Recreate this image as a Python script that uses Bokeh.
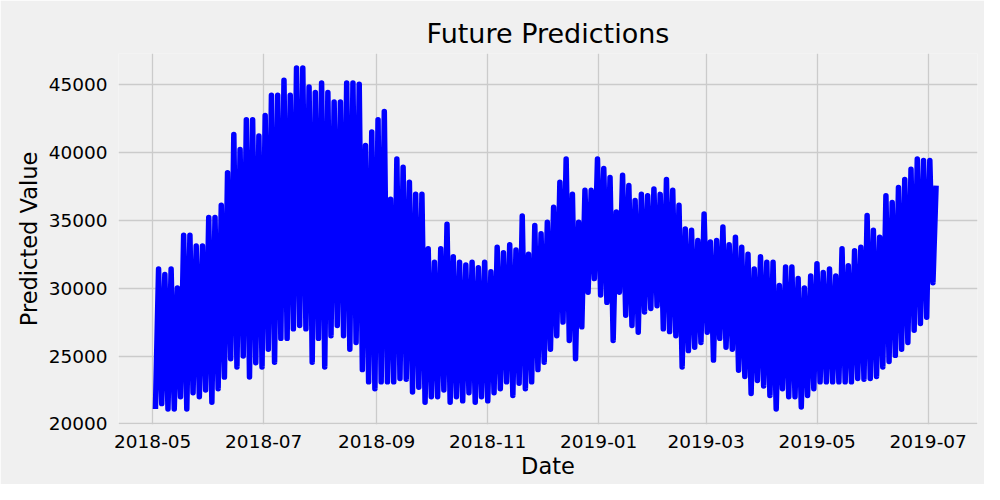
import pandas as pd
from bokeh.plotting import figure
from bokeh.models import Range1d, FixedTicker
from bokeh.embed import file_html
from bokeh.resources import INLINE

# envelope of the hourly forecast (about every 3.5 days)
start = "2018-05-02 12:00"
step = "41h20min"

daily_low = [21100, 21500, 21100, 21100, 22000, 21100, 22300, 22000, 22500, 21600,
             22600, 23450, 24800, 24200, 25000, 23450, 24500, 24200, 25500, 24550,
             26300, 26300, 27000, 27250, 27000, 24550, 26300, 24200, 26500, 27250,
             26500, 25500, 26000, 24000, 23100, 22600, 23100, 23100, 23100, 23350,
             23300, 22350, 22700, 21600, 22000, 22000, 22500, 21600, 22000, 21700,
             22300, 21600, 22000, 21700, 22300, 22600, 23100, 22100, 23000, 22600,
             23100, 24000, 24550, 25500, 26500, 27500, 26150, 24800, 27150, 29700,
             30700, 29500, 28950, 26150, 29700, 28000, 27250, 26750, 28250, 28500,
             28700, 27000, 26800, 26500, 24200, 25400, 25650, 26000, 26750, 24700,
             26300, 25650, 25500, 23950, 23500, 22250, 23200, 22800, 22100, 21100,
             22600, 22000, 22000, 21250, 22100, 22600, 23100, 23100, 23100, 23100,
             23100, 23100, 23350, 23300, 23350, 23500, 24200, 24600, 25050, 25500,
             26000, 26900, 27400, 27850, 30400]

daily_high = [31400, 31000, 31400, 30000, 33900, 33900, 33100, 33100, 35200, 35200,
              36100, 38500, 41300, 40200, 42400, 42400, 41200, 42700, 44200, 44200,
              45300, 44200, 46200, 46200, 44800, 44400, 45100, 44400, 43700, 43700,
              45100, 45100, 45000, 40500, 41500, 42400, 43000, 36550, 39500, 38900,
              37800, 36900, 36900, 32900, 31900, 32900, 34700, 32300, 31900, 31700,
              31900, 31500, 31900, 31200, 33000, 32600, 33200, 32800, 35300, 32500,
              34600, 34000, 34850, 35950, 37800, 39500, 36900, 34850, 37200, 37200,
              39500, 38800, 38150, 35600, 38300, 37550, 36450, 36900, 36800, 37300,
              36900, 38000, 37200, 36100, 34350, 34250, 33500, 35450, 33400, 33500,
              34500, 33200, 33750, 33000, 32500, 31400, 32300, 31900, 31900, 30200,
              31550, 31550, 30700, 30000, 30900, 31800, 31150, 31400, 30900, 32900,
              31650, 32750, 33000, 35350, 34250, 33750, 36800, 36300, 37400, 38000,
              38750, 39500, 39400, 39400, 37550]

y_ticks = [20000, 25000, 30000, 35000, 40000, 45000]
x_tick_labels = ["2018-05", "2018-07", "2018-09", "2018-11",
                 "2019-01", "2019-03", "2019-05", "2019-07"]

# low / high alternate along the time axis
values = []
for lo, hi in zip(daily_low, daily_high):
    values += [lo, hi]
dates = pd.date_range(start, periods=len(values), freq=step)

x_ticks = [pd.Timestamp(t).value / 1e6 for t in x_tick_labels]

bg = "#f0f0f0"
font = "DejaVu Sans"

p = figure(width=984, height=484, x_axis_type="datetime",
           x_range=Range1d(pd.Timestamp("2018-04-12 05:00"), pd.Timestamp("2019-07-28 02:00")),
           y_range=Range1d(19960, 47270),
           output_backend="svg", toolbar_location=None, tools="",
           background_fill_color=bg, border_fill_color=bg,
           min_border_left=118, min_border_right=7,
           min_border_top=53, min_border_bottom=60)
p.outline_line_color = None

p.line(dates, values, line_color="#0000ff", line_width=5.5, line_join="round")

# title
p.title.text = "Future Predictions"
p.title.align = "center"
p.title.text_font = font
p.title.text_font_size = "27px"
p.title.text_font_style = "normal"
p.title.text_color = "#000000"
p.title.offset = 0
p.title.standoff = 9

# axes
p.yaxis.ticker = FixedTicker(ticks=y_ticks)
p.xaxis.ticker = FixedTicker(ticks=x_ticks)
p.xaxis.major_label_overrides = {t: lab for t, lab in zip(x_ticks, x_tick_labels)}
p.xaxis.axis_label = "Date"
p.yaxis.axis_label = "Predicted Value"

for ax in (p.xaxis, p.yaxis):
    ax.axis_line_color = None
    ax.major_tick_line_color = None
    ax.minor_tick_line_color = None
    ax.major_label_text_font = font
    ax.major_label_text_font_size = "18.5px"
    ax.major_label_text_color = "#000000"
    ax.axis_label_text_font = font
    ax.axis_label_text_font_size = "22.5px"
    ax.axis_label_text_font_style = "normal"
    ax.axis_label_text_color = "#000000"

p.yaxis.major_label_standoff = 5
p.xaxis.major_label_standoff = 4
p.yaxis.axis_label_standoff = 4
p.xaxis.axis_label_standoff = 2

p.grid.grid_line_color = "#cbcbcb"
p.grid.grid_line_width = 1.3

open("out.html", "w").write(file_html(p, INLINE))
